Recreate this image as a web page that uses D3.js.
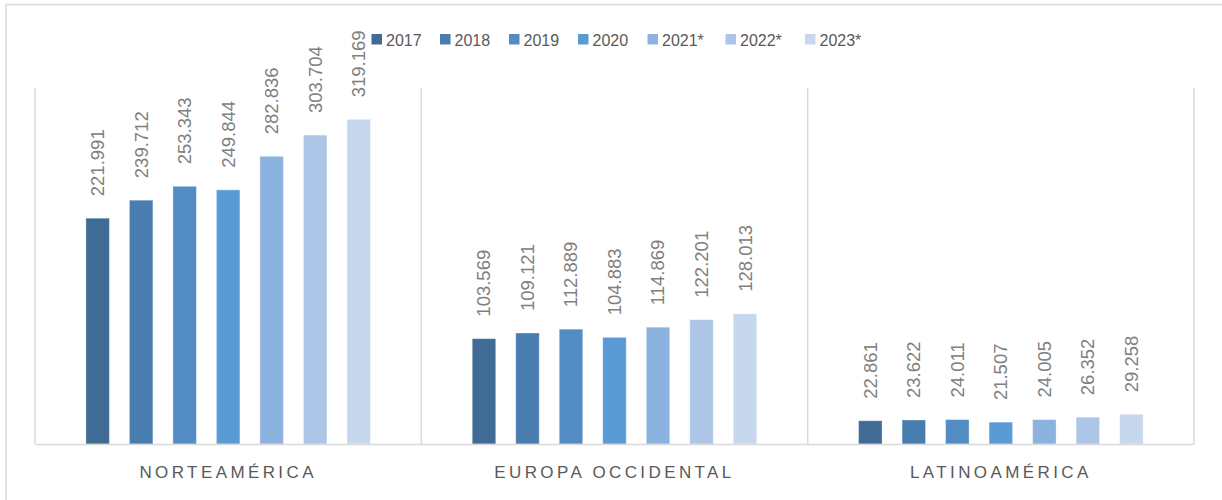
<!DOCTYPE html>
<html lang="es">
<head>
  <meta charset="UTF-8">
  <title>ventas por región</title>
  <style>
    * {
      padding: 0;
      margin: 0;
    }
    body {
      background: #fff;
    }
  </style>
</head>
<body>
  <script src="https://cdnjs.cloudflare.com/ajax/libs/d3/7.8.5/d3.min.js"></script>
  <script>
    const width = 1222;
    const height = 500;

    const regions = ['NORTEAMÉRICA', 'EUROPA OCCIDENTAL', 'LATINOAMÉRICA'];
    const years = ['2017', '2018', '2019', '2020', '2021*', '2022*', '2023*'];
    const norteamerica = [221.991, 239.712, 253.343, 249.844, 282.836, 303.704, 319.169];
    const europa = [103.569, 109.121, 112.889, 104.883, 114.869, 122.201, 128.013];
    const latam = [22.861, 23.622, 24.011, 21.507, 24.005, 26.352, 29.258];
    const colors = ['#3f6b94', '#4a7daf', '#528cc3', '#5b9bd5', '#8cb3df', '#adc6e7', '#c7d8ee'];

    const seriesByRegion = [norteamerica, europa, latam];

    const fmt = d3.format('.3f');

    const svg = d3.select('body')
      .append('svg')
      .attr('width', width)
      .attr('height', height)
      .style('font-family', '"Liberation Sans", Arial, sans-serif');

    // outer chart frame (cut off at right and bottom like the original)
    svg.append('rect')
      .attr('x', 6)
      .attr('y', 4.5)
      .attr('width', width + 20)
      .attr('height', height + 20)
      .attr('fill', 'none')
      .attr('stroke', '#d9d9d9')
      .attr('stroke-width', 1.5);

    const plot = { left: 35, right: 1194, top: 88, bottom: 444 };

    const x0 = d3.scaleBand()
      .domain(regions)
      .range([plot.left, plot.right]);

    const x1 = d3.scaleBand()
      .domain(years)
      .range([0, x0.bandwidth()])
      .paddingInner(0.46)
      .paddingOuter(1.17);

    const y = d3.scaleLinear()
      .domain([0, 350])
      .range([plot.bottom, plot.top]);

    const color = d3.scaleOrdinal()
      .domain(years)
      .range(colors);

    // vertical dividers between categories
    const edges = regions.map(r => x0(r)).concat([plot.right]);
    svg.append('g')
      .selectAll('line')
      .data(edges)
      .join('line')
      .attr('x1', d => d)
      .attr('x2', d => d)
      .attr('y1', plot.top)
      .attr('y2', plot.bottom)
      .attr('stroke', '#d9d9d9')
      .attr('stroke-width', 1.5);

    // bars
    const groups = svg.append('g')
      .selectAll('g')
      .data(regions)
      .join('g')
      .attr('transform', d => `translate(${x0(d)},0)`);

    const rows = (r, i) => years.map((yr, j) => ({ year: yr, value: seriesByRegion[i][j] }));

    groups.selectAll('rect')
      .data(rows)
      .join('rect')
      .attr('x', d => x1(d.year))
      .attr('y', d => y(d.value))
      .attr('width', x1.bandwidth())
      .attr('height', d => y(0) - y(d.value))
      .attr('fill', d => color(d.year))
      .attr('stroke', 'rgba(255,255,255,0.35)')
      .attr('stroke-width', 1);

    groups.selectAll('text')
      .data(rows)
      .join('text')
      .attr('transform', d => `translate(${x1(d.year) + x1.bandwidth() / 2},${y(d.value) - 22}) rotate(-90)`)
      .attr('dy', '0.35em')
      .attr('fill', '#808080')
      .attr('font-size', 18.5)
      .text(d => fmt(d.value));

    // x axis line
    const xAxis = svg.append('g')
      .attr('transform', `translate(0,${plot.bottom})`)
      .call(d3.axisBottom(x0).tickSize(0).tickPadding(22));
    xAxis.select('.domain')
      .attr('stroke', '#d9d9d9')
      .attr('stroke-width', 1.5);
    xAxis.selectAll('text')
      .attr('font-family', '"Liberation Sans", Arial, sans-serif')
      .attr('font-size', 17)
      .attr('fill', '#595959')
      .style('letter-spacing', '3.4px');

    // legend
    const legendX = [371.5, 440, 509, 578, 647.5, 725.5, 805];
    const legend = svg.append('g')
      .selectAll('g')
      .data(years)
      .join('g')
      .attr('transform', (d, i) => `translate(${legendX[i]},34)`);

    legend.append('rect')
      .attr('width', 10.5)
      .attr('height', 10.5)
      .attr('fill', d => color(d));

    legend.append('text')
      .attr('x', 14.5)
      .attr('y', 11.5)
      .attr('font-size', 16)
      .attr('fill', '#595959')
      .text(d => d);
  </script>
</body>
</html>
